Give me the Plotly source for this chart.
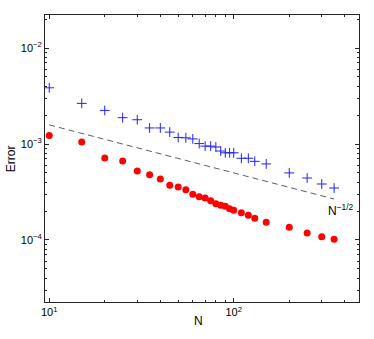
import numpy as np
import plotly.graph_objects as go

# sample sizes
n_vals = [10, 15, 20, 25, 30, 35, 40, 45, 50, 55, 60, 65, 70, 75, 80, 85, 90, 95, 100,
          110, 120, 130, 150, 200, 250, 300, 350]

# error, blue crosses
err_blue = [3.85e-3, 2.65e-3, 2.24e-3, 1.88e-3, 1.79e-3, 1.47e-3, 1.47e-3, 1.33e-3, 1.17e-3,
            1.16e-3, 1.13e-3, 1.01e-3, 9.5e-4, 9.5e-4, 9.3e-4, 8.45e-4, 8.1e-4, 8.1e-4, 8.1e-4,
            7.1e-4, 7.1e-4, 6.6e-4, 6.2e-4, 5.0e-4, 4.42e-4, 3.83e-4, 3.48e-4]

# error, red dots
err_red = [1.23e-3, 1.05e-3, 7.15e-4, 6.65e-4, 5.23e-4, 4.79e-4, 4.32e-4, 3.71e-4, 3.56e-4,
           3.34e-4, 2.99e-4, 2.82e-4, 2.74e-4, 2.57e-4, 2.39e-4, 2.30e-4, 2.24e-4, 2.12e-4, 2.04e-4,
           1.92e-4, 1.81e-4, 1.68e-4, 1.53e-4, 1.36e-4, 1.18e-4, 1.08e-4, 1.02e-4]

# reference slope N^-1/2
ref_n = [10, 350]
ref_err = [5e-3 * n ** -0.5 for n in ref_n]

y_ticks = [1e-4, 1e-3, 1e-2]
y_labels = ['10<sup>−4</sup>', '10<sup>−3</sup>', '10<sup>−2</sup>']
x_ticks = [10, 100]
x_labels = ['10<sup>1</sup>', '10<sup>2</sup>']

fig = go.Figure()
fig.add_trace(go.Scatter(x=ref_n, y=ref_err, mode='lines',
                         line=dict(color='#333333', width=0.8, dash='6px,4px')))
fig.add_trace(go.Scatter(x=n_vals, y=err_blue, mode='markers',
                         marker=dict(symbol='cross-thin-open', size=7, color='#2020ff',
                                     line=dict(color='#2020ff', width=1))))
fig.add_trace(go.Scatter(x=n_vals, y=err_red, mode='markers',
                         marker=dict(symbol='circle', size=7, color='#ff0000')))

fig.add_annotation(x=np.log10(318), y=np.log10(2.05e-4), xref='x', yref='y',
                   text='N<sup>−1/2</sup>', showarrow=False, xanchor='left',
                   font=dict(size=12, color='black'))

# axis titles placed by hand
fig.add_annotation(x=-0.108, y=0.498, xref='paper', yref='paper', text='Error',
                   textangle=-90, showarrow=False, xanchor='center', yanchor='middle',
                   font=dict(size=12, color='black'))
fig.add_annotation(x=0.49, y=-0.066, xref='paper', yref='paper', text='N',
                   showarrow=False, xanchor='center', yanchor='middle',
                   font=dict(size=12, color='black'))

axis_common = dict(type='log', showgrid=False, zeroline=False, showline=True,
                   linecolor='#262626', linewidth=1, mirror='ticks', ticks='inside',
                   ticklen=4, tickcolor='#262626',
                   minor=dict(ticks='inside', ticklen=2, tickcolor='#262626', dtick='D1'),
                   tickfont=dict(family='Liberation Sans, Arial', size=11, color='black'))

fig.update_xaxes(range=[0.977, 2.679], tickvals=x_ticks, ticktext=x_labels, **axis_common)
fig.update_yaxes(range=[-4.646, -1.656], tickvals=y_ticks, ticktext=y_labels, **axis_common)

fig.update_layout(width=374, height=339, showlegend=False,
                  margin=dict(l=45, r=15, t=15, b=37),
                  plot_bgcolor='white', paper_bgcolor='white',
                  font=dict(family='Liberation Sans, Arial', color='black'))

# drop the default page margin so the figure sits at the window corner
fig.write_html("out.html", config={'displayModeBar': False},
               post_script="document.body.style.margin='0';")
